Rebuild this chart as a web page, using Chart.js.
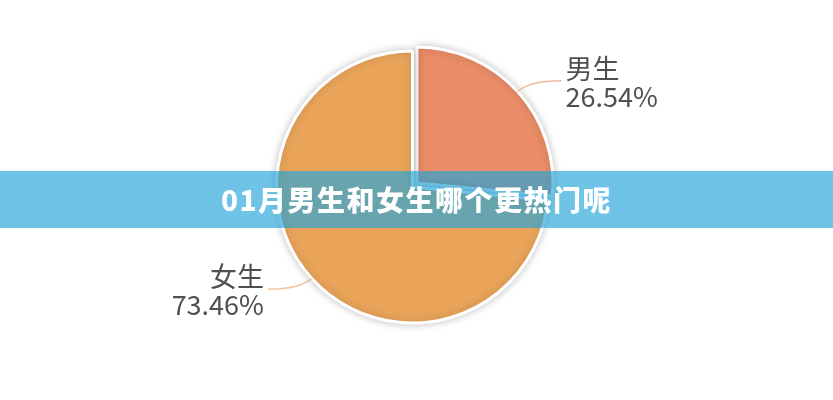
<!DOCTYPE html>
<html>
<head>
<meta charset="utf-8">
<script src="https://cdn.jsdelivr.net/npm/chart.js@4/dist/chart.umd.min.js"></script>
<style>
  html, body { margin: 0; padding: 0; background: #fff; }
  #wrap { position: relative; width: 833px; height: 400px; }
  #banner {
    position: absolute; left: 0; top: 171px; width: 833px; height: 57px;
    background: rgba(35, 164, 217, 0.66);
    color: #fff; font: 900 28px "Noto Sans CJK SC", sans-serif;
    letter-spacing: 1.5px; text-align: center; line-height: 57px;
  }
</style>
</head>
<body>
<div id="wrap">
  <canvas id="pie" width="833" height="400"></canvas>
  <div id="banner">01月男生和女生哪个更热门呢</div>
</div>
<script>
// data
const labels = ["男生", "女生"];
const shares = [26.54, 73.46];
const colors = ["#EA8C67", "#E9A45A"];

const ctx = document.getElementById("pie").getContext("2d");

// soft grey shadow round the slices
const shadowPlugin = {
  id: "shadow",
  beforeDatasetsDraw(chart) {
    const c = chart.ctx;
    c.save();
    c.shadowColor = "rgba(0,0,0,0.22)";
    c.shadowBlur = 8;
  },
  afterDatasetsDraw(chart) {
    chart.ctx.restore();
  }
};

// outside labels with a leader line
const labelPlugin = {
  id: "outLabels",
  afterDatasetsDraw(chart) {
    const c = chart.ctx;
    const arcs = chart.getDatasetMeta(0).data;
    arcs.forEach((arc, i) => {
      const p = arc.getProps(["x", "y", "startAngle", "endAngle", "outerRadius"], true);
      const mid = (p.startAngle + p.endAngle) / 2;
      const dx = Math.cos(mid), dy = Math.sin(mid);
      const off = (arc.options.offset || 0) / 4; // same shift the arc gets when drawn
      const ex = p.x + dx * (p.outerRadius + off), ey = p.y + dy * (p.outerRadius + off);
      const kx = ex + dx * 16, ky = ey + dy * 16;
      const side = dx >= 0 ? 1 : -1;
      const tx = kx + side * 32, ty = ky;
      c.save();
      c.strokeStyle = colors[i];
      c.globalAlpha = 0.6;
      c.lineWidth = 1.5;
      c.beginPath();
      c.moveTo(ex, ey);
      c.quadraticCurveTo(kx, ky, tx, ty);
      c.stroke();
      c.globalAlpha = 1;
      c.fillStyle = "#505050";
      c.font = '27px "Noto Sans CJK SC", sans-serif';
      c.textAlign = side > 0 ? "left" : "right";
      c.textBaseline = "middle";
      const x = tx + side * 4;
      c.fillText(labels[i], x, ty - 12);
      c.fillText(shares[i].toFixed(2) + "%", x, ty + 16);
      c.restore();
    });
  }
};

new Chart(ctx, {
  type: "pie",
  data: {
    labels: labels,
    datasets: [{
      data: shares,
      backgroundColor: colors,
      borderColor: "#ffffff",
      borderWidth: 3,
      offset: [24, 0],
      radius: 136
    }]
  },
  options: {
    responsive: false,
    animation: false,
    layout: { padding: { left: 0, right: 8, top: 0, bottom: 26 } },
    plugins: {
      legend: { display: false },
      tooltip: { enabled: false },
      title: { display: false }
    }
  },
  plugins: [shadowPlugin, labelPlugin]
});
</script>
</body>
</html>
